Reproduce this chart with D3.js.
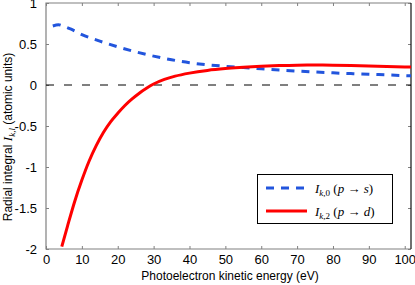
<!DOCTYPE html>
<html>
<head>
<meta charset="utf-8">
<script src="https://d3js.org/d3.v7.min.js"></script>
<style>
  body { margin: 0; background: #fff; }
  svg { display: block; font-family: "Liberation Sans", Arial, sans-serif; }
  .math { font-family: "Liberation Serif", "DejaVu Serif", serif; }
</style>
</head>
<body>
<div id="chart"></div>
<script>
const width = 415
const height = 285

// I_{k,0} (p -> s)
const energyS = [1.9, 3.5, 5, 7, 10, 15, 20, 25, 30, 35, 40, 45, 50, 55, 60, 65, 70, 75, 80, 85, 90, 95, 100, 102]
const valueS = [0.72, 0.735, 0.715, 0.68, 0.615, 0.535, 0.465, 0.405, 0.352, 0.308, 0.272, 0.246, 0.228, 0.212, 0.197, 0.183, 0.17, 0.158, 0.148, 0.139, 0.131, 0.123, 0.115, 0.112]

// I_{k,2} (p -> d)
const energyD = [4.4, 6, 8, 10, 12, 14, 16, 18, 20, 22, 24, 26, 28, 30, 33, 36, 40, 45, 50, 55, 60, 65, 70, 75, 80, 85, 90, 95, 100, 102]
const valueD = [-1.97, -1.72, -1.42, -1.16, -0.93, -0.74, -0.58, -0.45, -0.345, -0.25, -0.17, -0.1, -0.04, 0.012, 0.068, 0.108, 0.145, 0.178, 0.2, 0.215, 0.228, 0.237, 0.242, 0.243, 0.241, 0.237, 0.232, 0.226, 0.221, 0.219]

const xTicks = [0, 10, 20, 30, 40, 50, 60, 70, 80, 90, 100]
const yTicks = [1, 0.5, 0, -0.5, -1, -1.5, -2]

const plotLeft = 46, plotRight = 411, plotTop = 3, plotBottom = 249

const x = d3.scaleLinear().domain([0, 102]).range([plotLeft, 411.9])
const y = d3.scaleLinear().domain([-2, 1]).range([plotBottom, plotTop])

const svg = d3.select("#chart").append("svg")
    .attr("width", width).attr("height", height)

const frame = "#808080"

// axes with inner ticks
svg.append("g")
    .attr("transform", "translate(0," + plotBottom + ")")
    .call(d3.axisBottom(x).tickValues(xTicks).tickSizeInner(-3).tickSizeOuter(0).tickPadding(6))
    .call(g => g.select(".domain").remove())
    .call(g => g.selectAll("line").attr("stroke", frame))
    .call(g => g.selectAll("text").attr("font-size", 13).attr("fill", "#000"))

svg.append("g")
    .attr("transform", "translate(0," + plotTop + ")")
    .call(d3.axisTop(x).tickValues(xTicks).tickSizeInner(-3).tickSizeOuter(0).tickFormat(""))
    .call(g => g.select(".domain").remove())
    .call(g => g.selectAll("line").attr("stroke", frame))

svg.append("g")
    .attr("transform", "translate(" + plotLeft + ",0)")
    .call(d3.axisLeft(y).tickValues(yTicks).tickSizeInner(-3).tickSizeOuter(0).tickPadding(9)
        .tickFormat(d => String(d)))
    .call(g => g.select(".domain").remove())
    .call(g => g.selectAll("line").attr("stroke", frame))
    .call(g => g.selectAll("text").attr("font-size", 13).attr("fill", "#000"))

svg.append("g")
    .attr("transform", "translate(" + plotRight + ",0)")
    .call(d3.axisRight(y).tickValues(yTicks).tickSizeInner(-3).tickSizeOuter(0).tickFormat(""))
    .call(g => g.select(".domain").remove())
    .call(g => g.selectAll("line").attr("stroke", frame))

// frame
svg.append("path")
    .attr("d", `M${plotRight},${plotTop}H${plotLeft}V${plotBottom}H${plotRight}`)
    .attr("fill", "none").attr("stroke", frame).attr("stroke-width", 1.2)
svg.append("line")
    .attr("x1", plotRight).attr("x2", plotRight).attr("y1", plotTop).attr("y2", plotBottom)
    .attr("stroke", "#111").attr("stroke-width", 1.2)

// zero line
svg.append("line")
    .attr("x1", plotLeft).attr("x2", plotRight).attr("y1", y(0)).attr("y2", y(0))
    .attr("stroke", "#000").attr("stroke-width", 1)
    .attr("stroke-dasharray", "8,10")

svg.append("clipPath").attr("id", "clip")
    .append("rect").attr("x", plotLeft).attr("y", plotTop)
    .attr("width", plotRight - plotLeft).attr("height", plotBottom - plotTop)

const line = d3.line()
    .x(d => x(d[0])).y(d => y(d[1]))
    .curve(d3.curveMonotoneX)

const plot = svg.append("g").attr("clip-path", "url(#clip)")

plot.append("path")
    .datum(energyS.map((e, i) => [e, valueS[i]]))
    .attr("d", line)
    .attr("fill", "none").attr("stroke", "#2255dd").attr("stroke-width", 3)
    .attr("stroke-dasharray", "8,7")

plot.append("path")
    .datum(energyD.map((e, i) => [e, valueD[i]]))
    .attr("d", line)
    .attr("fill", "none").attr("stroke", "#ff0000").attr("stroke-width", 3)

// legend
const legend = svg.append("g")
legend.append("rect")
    .attr("x", 257.5).attr("y", 174.5).attr("width", 135).attr("height", 49)
    .attr("fill", "#fff").attr("stroke", "#000").attr("stroke-width", 1)

const entries = [
    { sub: "0", final: "s", color: "#2255dd", dash: "8,7", yy: 188 },
    { sub: "2", final: "d", color: "#ff0000", dash: null, yy: 211 }
]
entries.forEach(en => {
    legend.append("line")
        .attr("x1", 266).attr("x2", 307).attr("y1", en.yy).attr("y2", en.yy)
        .attr("stroke", en.color).attr("stroke-width", 3)
        .attr("stroke-dasharray", en.dash)
    const t = legend.append("text").attr("class", "math")
        .attr("x", 315).attr("y", en.yy + 4.5).attr("font-size", 13)
    t.append("tspan").attr("font-style", "italic").text("I")
    t.append("tspan").attr("font-size", 9).attr("dy", 3).attr("font-style", "italic").text("k")
    t.append("tspan").attr("font-size", 9).text("," + en.sub)
    t.append("tspan").attr("dy", -3).text(" (")
    t.append("tspan").attr("font-style", "italic").text("p")
    t.append("tspan").text(" \u2192 ")
    t.append("tspan").attr("font-style", "italic").text(en.final)
    t.append("tspan").text(")")
})

// axis labels
svg.append("text")
    .attr("x", 230).attr("y", 280)
    .attr("text-anchor", "middle").attr("font-size", 12)
    .text("Photoelectron kinetic energy (eV)")

const yl = svg.append("text")
    .attr("transform", "translate(12,137) rotate(-90)")
    .attr("text-anchor", "middle").attr("font-size", 12)
yl.append("tspan").text("Radial integral ")
yl.append("tspan").attr("class", "math").attr("font-style", "italic").attr("font-size", 13).text("I")
yl.append("tspan").attr("class", "math").attr("font-style", "italic").attr("font-size", 9).attr("dy", 3).text("k,l")
yl.append("tspan").attr("dy", -3).text(" (atomic units)")
</script>
</body>
</html>
